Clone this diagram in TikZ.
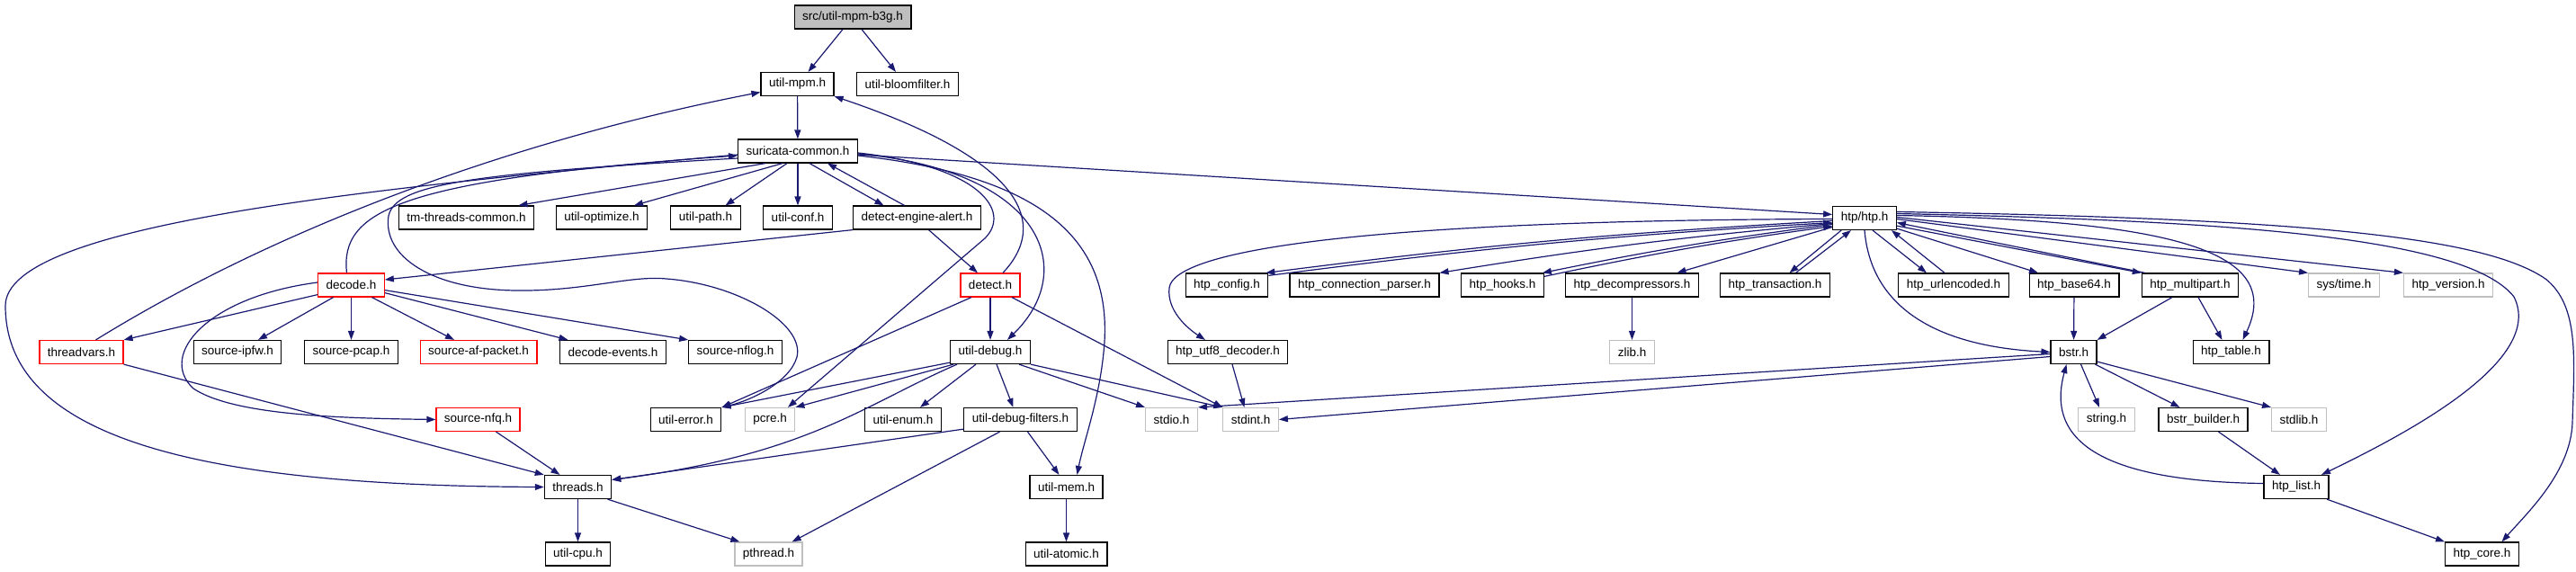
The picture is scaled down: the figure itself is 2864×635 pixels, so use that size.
\documentclass[tikz,border=0pt]{standalone}
\usepackage{fontspec}
\setmainfont{Liberation Sans}
\usetikzlibrary{arrows.meta}

\definecolor{edgeblue}{RGB}{25,25,112}
\definecolor{sysgrey}{RGB}{191,191,191}
\definecolor{rootgrey}{RGB}{191,191,191}

\tikzset{
  file/.style={draw=black, line width=1.2pt, fill=white, minimum height=26pt, inner xsep=9pt, inner ysep=0pt, font=\fontsize{13.5}{16}\selectfont},
  redfile/.style={file, draw=red},
  sysfile/.style={file, draw=sysgrey},
  rootfile/.style={file, fill=rootgrey},
  dep/.style={->, draw=edgeblue, line width=1.2pt}
}

\begin{document}
\begin{tikzpicture}[>={Triangle[length=10pt,width=7pt]}, x=1pt, y=-1pt]
		\useasboundingbox (0,0) rectangle (2864,635);

		\node[rootfile] (b3g) at (948,19) {src/util-mpm-b3g.h};
		\node[file] (util_mpm) at (886.5,93.5) {util-mpm.h};
		\node[file] (util_bloomfilter) at (1009,93.5) {util-bloomfilter.h};
		\node[file] (suricata_common) at (887,168) {suricata-common.h};
		\node[file] (tm_threads_common) at (518.5,242) {tm-threads-common.h};
		\node[file] (util_optimize) at (669,242) {util-optimize.h};
		\node[file] (util_path) at (784.5,242) {util-path.h};
		\node[file] (util_conf) at (887,242) {util-conf.h};
		\node[file] (detect_engine_alert) at (1019.5,242) {detect-engine-alert.h};
		\node[file] (htp_h) at (2073,242.5) {htp/htp.h};
		\node[redfile] (decode) at (390.5,317) {decode.h};
		\node[redfile] (detect) at (1101,317) {detect.h};
		\node[file] (htp_config) at (1364,317) {htp\_config.h};
		\node[file] (htp_connection_parser) at (1517,317) {htp\_connection\_parser.h};
		\node[file] (htp_hooks) at (1670.5,317) {htp\_hooks.h};
		\node[file] (htp_decompressors) at (1814.5,317) {htp\_decompressors.h};
		\node[file] (htp_transaction) at (1973.5,317) {htp\_transaction.h};
		\node[file] (htp_urlencoded) at (2172,317) {htp\_urlencoded.h};
		\node[file] (htp_base64) at (2306,317) {htp\_base64.h};
		\node[file] (htp_multipart) at (2435,317) {htp\_multipart.h};
		\node[sysfile] (sys_time) at (2606,317) {sys/time.h};
		\node[sysfile] (htp_version) at (2722,317) {htp\_version.h};
		\node[redfile] (threadvars) at (90.5,391.5) {threadvars.h};
		\node[file] (source_ipfw) at (264,391.5) {source-ipfw.h};
		\node[file] (source_pcap) at (390.5,391.5) {source-pcap.h};
		\node[redfile] (source_af_packet) at (532,391.5) {source-af-packet.h};
		\node[file] (decode_events) at (681.5,391.5) {decode-events.h};
		\node[file] (source_nflog) at (817.5,391.5) {source-nflog.h};
		\node[file] (util_debug) at (1101,391.5) {util-debug.h};
		\node[file] (htp_utf8_decoder) at (1365,391.5) {htp\_utf8\_decoder.h};
		\node[sysfile] (zlib) at (1814.5,391.5) {zlib.h};
		\node[file] (bstr) at (2305.5,391.5) {bstr.h};
		\node[file] (htp_table) at (2480.5,391.5) {htp\_table.h};
		\node[redfile] (source_nfq) at (531.5,466.5) {source-nfq.h};
		\node[file] (util_error) at (762.5,466.5) {util-error.h};
		\node[sysfile] (pcre) at (856,466.5) {pcre.h};
		\node[file] (util_enum) at (1004,466.5) {util-enum.h};
		\node[file] (util_debug_filters) at (1134.5,466.5) {util-debug-filters.h};
		\node[sysfile] (stdio) at (1302.5,466.5) {stdio.h};
		\node[sysfile] (stdint) at (1390.5,466.5) {stdint.h};
		\node[sysfile] (string) at (2342,466.5) {string.h};
		\node[file] (bstr_builder) at (2449.5,466.5) {bstr\_builder.h};
		\node[sysfile] (stdlib) at (2556,466.5) {stdlib.h};
		\node[file] (threads) at (642.5,541.5) {threads.h};
		\node[file] (util_mem) at (1185.5,541.5) {util-mem.h};
		\node[file] (htp_list) at (2553,541.5) {htp\_list.h};
		\node[file] (util_cpu) at (642.5,616) {util-cpu.h};
		\node[sysfile] (pthread) at (854.5,616) {pthread.h};
		\node[file] (util_atomic) at (1185.5,616) {util-atomic.h};
		\node[file] (htp_core) at (2759.5,616) {htp\_core.h};

		\draw[dep] ([xshift=-11pt]b3g.south) -- ([xshift=12pt]util_mpm.north);
		\draw[dep] ([xshift=10pt]b3g.south) -- ([xshift=-13pt]util_bloomfilter.north);
		\draw[dep] (util_mpm) -- (suricata_common);
		\draw[dep] ([xshift=-36pt]suricata_common.south) -- ([xshift=58pt]tm_threads_common.north);
		\draw[dep] ([xshift=-17pt]suricata_common.south) -- ([xshift=36pt]util_optimize.north);
		\draw[dep] ([xshift=-12pt]suricata_common.south) -- ([xshift=22pt]util_path.north);
		\draw[dep] (suricata_common) -- (util_conf);
		\draw[dep] ([xshift=13pt]suricata_common.south) -- ([xshift=-37pt]detect_engine_alert.north);
		\draw[dep] ([xshift=-14pt]detect_engine_alert.north) -- ([xshift=33pt]suricata_common.south);
		\draw[dep] ([yshift=-4pt]suricata_common.east) -- ([yshift=4pt]htp_h.west);
		\draw[dep] ([yshift=-4pt]suricata_common.west) .. controls (400,210) and (6,250) .. (6,340) .. controls (6,490) and (230,540) .. (threads.west);
		\draw[dep] ([yshift=-8pt]suricata_common.west) .. controls (520,193) and (440,205) .. (432,240) .. controls (425,285) and (480,322) .. (574,323) .. controls (650,324) and (700,306) .. (741,310) .. controls (820,316) and (895,360) .. (886,397) .. controls (878,425) and (835,445) .. (util_error.north east);
		\draw[dep] ([yshift=-2pt]suricata_common.east) .. controls (1090,185) and (1125,235) .. (1095,265) -- ([xshift=20pt]pcre.north);
		\draw[dep] ([yshift=-3pt]suricata_common.east) .. controls (1160,190) and (1200,300) .. ([xshift=19pt]util_debug.north);
		\draw[dep] ([yshift=-5pt]suricata_common.east) .. controls (1150,195) and (1235,260) .. (1228,380) .. controls (1224,440) and (1205,490) .. ([xshift=12pt]util_mem.north);

		\draw[dep] (detect_engine_alert.south west) -- ([yshift=6pt]decode.east);
		\draw[dep] ([xshift=13pt]detect_engine_alert.south) -- ([xshift=-14pt]detect.north);
		\draw[dep] ([xshift=-5pt]decode.north) .. controls (378,235) and (440,200) .. ([yshift=-5pt]suricata_common.west);
		\draw[dep] ([yshift=3pt]decode.south west) -- (threadvars.north east);
		\draw[dep] ([xshift=-20pt]decode.south) -- ([xshift=23pt]source_ipfw.north);
		\draw[dep] (decode) -- (source_pcap);
		\draw[dep] ([xshift=23pt]decode.south) -- ([xshift=-27pt]source_af_packet.north);
		\draw[dep] ([yshift=5pt]decode.south east) -- ([xshift=-50pt]decode_events.north);
		\draw[dep] ([yshift=8pt]decode.south east) -- (source_nflog.north west);
		\draw[dep] ([yshift=3pt]decode.west) .. controls (230,330) and (175,395) .. (215,432) .. controls (260,462) and (380,465) .. (source_nfq.west);
		\draw[dep] ([xshift=16pt]threadvars.north) .. controls (330,240) and (600,150) .. ([yshift=-9pt]util_mpm.west);
		\draw[dep] (threadvars.south east) -- (threads.north west);
		\draw[dep] ([xshift=20pt]source_nfq.south) -- ([xshift=-20pt]threads.north);
		\draw[dep] (threads) -- (util_cpu);
		\draw[dep] ([xshift=33pt]threads.south) -- ([xshift=6pt]pthread.north west);

		\draw[dep] ([xshift=14pt]detect.north) .. controls (1170,245) and (1130,175) .. (util_mpm.south east);
		\draw[dep] (detect) -- (util_debug);
		\draw[dep] ([xshift=-21pt]detect.south) -- (util_error.north east);
		\draw[dep] ([xshift=24pt]detect.south) -- (stdint.north west);
		\draw[dep] ([yshift=2pt]util_debug.south west) -- (util_error.north east);
		\draw[dep] ([xshift=4pt]util_debug.south west) -- (pcre.north east);
		\draw[dep] ([xshift=8pt]util_debug.south west) .. controls (960,450) and (900,505) .. ([yshift=8pt]threads.east);
		\draw[dep] ([xshift=-16pt]util_debug.south) -- ([xshift=19pt]util_enum.north);
		\draw[dep] ([xshift=7pt]util_debug.south) -- ([xshift=-8pt]util_debug_filters.north);
		\draw[dep] ([xshift=32pt]util_debug.south) -- (stdio.north west);
		\draw[dep] (util_debug.south east) -- (stdint.north west);
		\draw[dep] ([yshift=3pt]util_debug_filters.south west) -- ([yshift=8pt]threads.east);
		\draw[dep] ([xshift=-23pt]util_debug_filters.south) -- ([xshift=-12pt]pthread.north east);
		\draw[dep] ([xshift=8pt]util_debug_filters.south) -- ([xshift=-8pt]util_mem.north);
		\draw[dep] (util_mem) -- (util_atomic);

		\draw[dep] ([yshift=-1pt]htp_h.west) .. controls (1500,245) and (1305,280) .. (1300,320) .. controls (1297,345) and (1320,365) .. ([xshift=-25pt]htp_utf8_decoder.north);
		\draw[dep] ([yshift=-3pt]htp_h.west) to[bend right=2] ([xshift=-3pt]htp_config.north east);
		\draw[dep] ([yshift=-3pt]htp_config.north east) to[bend left=2] ([yshift=-5pt]htp_h.west);
		\draw[dep] ([yshift=-6pt]htp_h.west) to[bend right=2] (htp_connection_parser.north east);
		\draw[dep] ([yshift=-7pt]htp_h.west) to[bend right=2] ([xshift=-2pt]htp_hooks.north east);
		\draw[dep] ([yshift=-4pt]htp_hooks.north east) to[bend left=2] ([yshift=-9pt]htp_h.west);
		\draw[dep] ([yshift=-10pt]htp_h.west) -- ([xshift=50pt]htp_decompressors.north);
		\draw[dep] ([xshift=10pt]htp_h.south west) -- ([xshift=16pt]htp_transaction.north);
		\draw[dep] ([xshift=23pt]htp_transaction.north) -- ([xshift=-15pt]htp_h.south);
		\draw[dep] ([xshift=9pt]htp_h.south) -- ([xshift=-30pt]htp_urlencoded.north);
		\draw[dep] ([xshift=-10pt]htp_urlencoded.north) -- ([xshift=30pt]htp_h.south);
		\draw[dep] ([yshift=2pt]htp_h.south east) -- ([xshift=-40pt]htp_base64.north);
		\draw[dep] ([yshift=5pt]htp_h.south east) -- (htp_multipart.north west);
		\draw[dep] ([xshift=4pt]htp_multipart.north west) -- ([yshift=-5pt]htp_h.east);
		\draw[dep] ([yshift=-1pt]htp_h.east) -- (sys_time.north west);
		\draw[dep] ([yshift=1pt]htp_h.east) -- (htp_version.north west);
		\draw[dep] ([yshift=3pt]htp_h.east) .. controls (2420,245) and (2540,280) .. ([xshift=13pt]htp_table.north);
		\draw[dep] (htp_h.south) .. controls (2080,340) and (2150,385) .. (bstr.west);
		\draw[dep] ([yshift=5pt]htp_h.east) .. controls (2450,245) and (2740,260) .. (2795,330) .. controls (2830,400) and (2680,480) .. ([xshift=28pt]htp_list.north);
		\draw[dep] ([yshift=7pt]htp_h.east) .. controls (2550,243) and (2760,262) .. (2830,310) .. controls (2868,340) and (2862,400) .. (2860,470) .. controls (2858,525) and (2810,570) .. ([xshift=22pt]htp_core.north);

		\draw[dep] (htp_base64) -- (bstr);
		\draw[dep] ([xshift=-20pt]htp_multipart.south) -- (bstr.north east);
		\draw[dep] ([xshift=9pt]htp_multipart.south) -- ([xshift=-10pt]htp_table.north);
		\draw[dep] (htp_decompressors) -- (zlib);
		\draw[dep] ([xshift=5pt]htp_utf8_decoder.south) -- ([xshift=-7pt]stdint.north);
		\draw[dep] ([yshift=-2pt]bstr.west) -- (stdio.north east);
		\draw[dep] ([yshift=-5pt]bstr.west) -- (stdint.east);
		\draw[dep] ([xshift=8pt]bstr.south) -- ([xshift=-8pt]string.north);
		\draw[dep] ([xshift=24pt]bstr.south) -- ([xshift=-26pt]bstr_builder.north);
		\draw[dep] ([yshift=3pt]bstr.south east) -- (stdlib.north west);
		\draw[dep] ([xshift=17pt]bstr_builder.south) -- ([xshift=-18pt]htp_list.north);
		\draw[dep] ([yshift=4pt]htp_list.west) .. controls (2300,535) and (2280,470) .. ([xshift=-8pt]bstr.south);
		\draw[dep] ([xshift=34pt]htp_list.south) -- (htp_core.north west);
	\end{tikzpicture}
\end{document}
